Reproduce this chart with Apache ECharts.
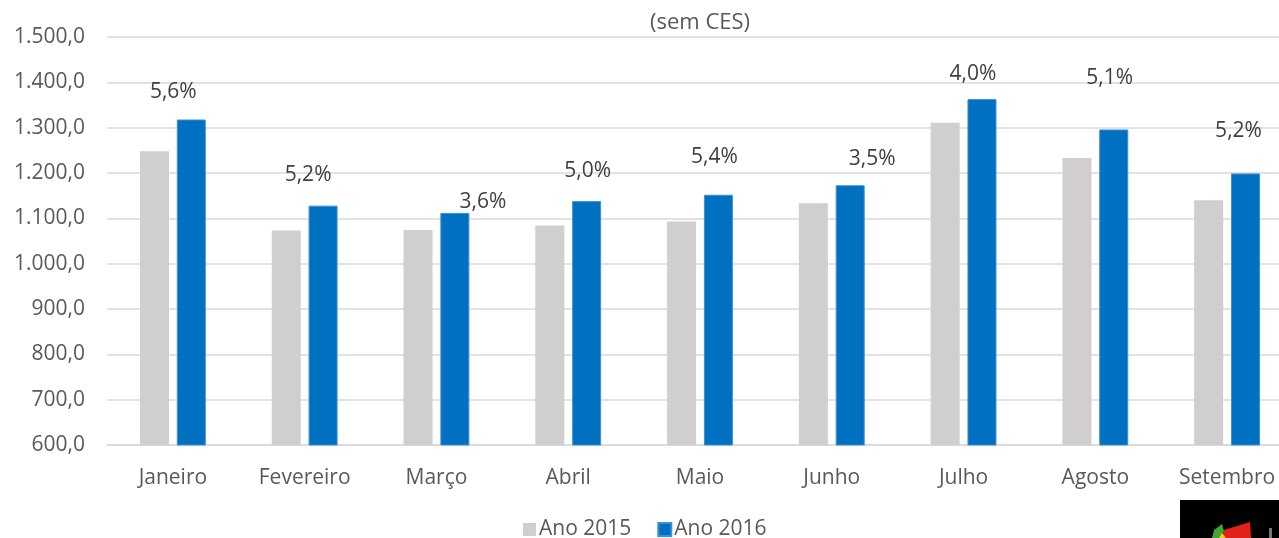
<!DOCTYPE html>
<html>
<head>
<meta charset="utf-8">
<script src="https://cdn.jsdelivr.net/npm/echarts@6/dist/echarts.min.js"></script>
<style>
html, body { margin: 0; padding: 0; background: #fff; }
#main { width: 1279px; height: 538px; }
</style>
</head>
<body>
<div id="main"></div>
<script>
var months = ['Janeiro', 'Fevereiro', 'Março', 'Abril', 'Maio', 'Junho', 'Julho', 'Agosto', 'Setembro'];
var ano2015 = [1248, 1073, 1074, 1084, 1093, 1133, 1311, 1233, 1140];
var ano2016 = [1318, 1128, 1112, 1138, 1152, 1173, 1363, 1296, 1199];
var variacao = ['5,6%', '5,2%', '3,6%', '5,0%', '5,4%', '3,5%', '4,0%', '5,1%', '5,2%'];
// where each percentage label sits relative to its blue bar (as in the original)
var labelOffsets = [[-18, -12], [-15, -15], [28, 5], [1, -15], [-4, -22], [22, -11], [-9, -10], [-4, -36], [-7, -27]];

var myChart = echarts.init(document.getElementById('main'));

var fmt = function (v) {
    return v.toLocaleString('de-DE', { minimumFractionDigits: 1, maximumFractionDigits: 1 });
};

var font = '"Open Sans", sans-serif';

option = {
    animation: false,
    title: {
        text: '(sem CES)',
        left: 695,
        textAlign: 'center',
        top: 7,
        textStyle: { fontFamily: font, fontSize: 22, fontWeight: 'normal', color: '#595959' }
    },
    legend: {
        data: ['Ano 2015', 'Ano 2016'],
        left: 518,
        bottom: -7,
        itemWidth: 13,
        itemHeight: 13,
        itemGap: 26,
        icon: 'rect',
        textStyle: { fontFamily: font, fontSize: 21, color: '#595959', padding: [0, 0, 0, -2] }
    },
    grid: {
        left: 107,
        width: 1186,
        top: 37,
        bottom: 93,
        outerBoundsMode: 'none'
    },
    xAxis: {
        type: 'category',
        data: months,
        axisTick: { show: false },
        axisLine: { lineStyle: { color: '#D9D9D9', width: 1.5 } },
        axisLabel: { fontFamily: font, fontSize: 21, color: '#595959', margin: 23 }
    },
    yAxis: {
        type: 'value',
        min: 600,
        max: 1500,
        interval: 100,
        axisLine: { show: false },
        axisTick: { show: false },
        splitLine: { lineStyle: { color: '#D9D9D9', width: 1.5 } },
        axisLabel: { fontFamily: font, fontSize: 21, color: '#595959', margin: 22, formatter: fmt }
    },
    series: [{
        name: 'Ano 2015',
        type: 'bar',
        data: ano2015,
        barWidth: 29,
        barGap: '27%',
        itemStyle: { color: '#D0CECE' }
    }, {
        name: 'Ano 2016',
        type: 'bar',
        data: ano2016.map(function (v, i) {
            return {
                value: v,
                label: { offset: labelOffsets[i] }
            };
        }),
        barWidth: 29,
        itemStyle: { color: '#0070C0', borderColor: '#3C8FDA', borderWidth: 1 },
        label: {
            show: true,
            position: 'top',
            distance: 5,
            fontFamily: font,
            fontSize: 21,
            color: '#404040',
            formatter: function (p) { return variacao[p.dataIndex]; }
        }
    }],
    graphic: [{
        type: 'rect',
        left: 1180,
        top: 500,
        shape: { width: 99, height: 38 },
        style: { fill: '#000' }
    }, {
        type: 'polygon',
        shape: { points: [[1212, 538], [1214, 530], [1222, 524], [1224, 531], [1220, 538]] },
        style: { fill: '#3FA535' }
    }, {
        type: 'polygon',
        shape: { points: [[1222, 538], [1224, 530], [1250, 522], [1251, 538]] },
        style: { fill: '#E2231A' }
    }, {
        type: 'polygon',
        shape: { points: [[1219, 538], [1222, 533], [1226, 538]] },
        style: { fill: '#F7D117' }
    }, {
        type: 'rect',
        left: 1269,
        top: 528,
        shape: { width: 3, height: 10 },
        style: { fill: '#777' }
    }]
};

myChart.setOption(option);
</script>
</body>
</html>
